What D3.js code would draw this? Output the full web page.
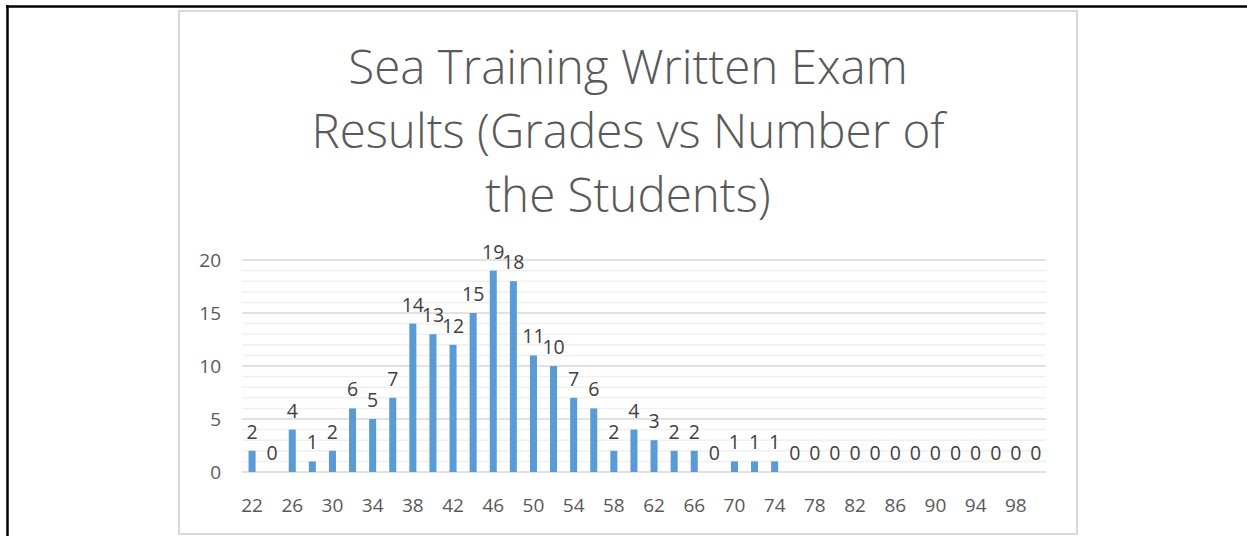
<!DOCTYPE html>
<html>
<head>
<meta charset="utf-8">
<script src="https://cdn.jsdelivr.net/npm/d3@7"></script>
<style>
  body { margin: 0; background: #fff; }
  svg { display: block; }
</style>
</head>
<body>
<script>
// grades (categories) and number of students
var grades = [22, 24, 26, 28, 30, 32, 34, 36, 38, 40, 42, 44, 46, 48, 50, 52, 54, 56, 58, 60,
              62, 64, 66, 68, 70, 72, 74, 76, 78, 80, 82, 84, 86, 88, 90, 92, 94, 96, 98, 100];
var students = [2, 0, 4, 1, 2, 6, 5, 7, 14, 13, 12, 15, 19, 18, 11, 10, 7, 6, 2, 4,
                3, 2, 2, 0, 1, 1, 1, 0, 0, 0, 0, 0, 0, 0, 0, 0, 0, 0, 0, 0];
var yTicks = [0, 5, 10, 15, 20];
var titleLines = ["Sea Training Written Exam", "Results (Grades vs Number of", "the Students)"];

var W = 1247, H = 536;
var font = "'Open Sans', 'Liberation Sans', sans-serif";

var svg = d3.select("body").append("svg")
    .attr("width", W)
    .attr("height", H);

// page frame (black lines top and left)
svg.append("line")
    .attr("x1", 6).attr("x2", W).attr("y1", 6.5).attr("y2", 6.5)
    .attr("stroke", "#000").attr("stroke-width", 2.5);
svg.append("line")
    .attr("x1", 7.5).attr("x2", 7.5).attr("y1", 5).attr("y2", H)
    .attr("stroke", "#000").attr("stroke-width", 2.5);

// chart area box
svg.append("rect")
    .attr("x", 179).attr("y", 11)
    .attr("width", 898).attr("height", 523)
    .attr("fill", "#fff")
    .attr("stroke", "#d9d9d9").attr("stroke-width", 2);

// title
svg.append("g").selectAll("text")
    .data(titleLines)
    .join("text")
    .attr("x", 628)
    .attr("y", (d, i) => 84 + i * 64)
    .attr("text-anchor", "middle")
    .attr("font-family", font)
    .attr("font-weight", 300)
    .attr("font-size", 47.5)
    .attr("fill", "#595959")
    .text(d => d);

var x = d3.scaleBand()
    .domain(grades)
    .range([242, 1046])
    .paddingInner(0.65)
    .paddingOuter(0.325);

var y = d3.scaleLinear()
    .domain([0, 20])
    .range([472, 260]);

// minor gridlines
svg.append("g").selectAll("line")
    .data(d3.range(1, 20).filter(v => v % 5 !== 0))
    .join("line")
    .attr("x1", 242).attr("x2", 1046)
    .attr("y1", d => y(d)).attr("y2", d => y(d))
    .attr("stroke", "#f0f0f0").attr("stroke-width", 1.5);

// major gridlines
svg.append("g").selectAll("line")
    .data(yTicks)
    .join("line")
    .attr("x1", 242).attr("x2", 1046)
    .attr("y1", d => y(d)).attr("y2", d => y(d))
    .attr("stroke", "#d9d9d9").attr("stroke-width", 1.5);

// y axis labels
var yAxis = d3.axisLeft(y).tickValues(yTicks).tickSize(0).tickPadding(0);
var gy = svg.append("g").attr("transform", "translate(221,0)").call(yAxis);
gy.select(".domain").remove();
gy.selectAll("text")
    .attr("font-family", font)
    .attr("font-size", 19)
    .attr("fill", "#595959");

// x axis labels (every other grade)
var xAxis = d3.axisBottom(x)
    .tickValues(grades.filter((g, i) => i % 2 === 0))
    .tickSize(0).tickPadding(0);
var gx = svg.append("g").attr("transform", "translate(0,498)").call(xAxis);
gx.select(".domain").remove();
gx.selectAll("text")
    .attr("dy", "0.71em")
    .attr("font-family", font)
    .attr("font-size", 19)
    .attr("fill", "#595959");

// bars
svg.append("g").selectAll("rect")
    .data(students)
    .join("rect")
    .attr("x", (d, i) => x(grades[i]))
    .attr("y", d => y(d))
    .attr("width", x.bandwidth())
    .attr("height", d => y(0) - y(d))
    .attr("fill", "#5b9bd5");

// data labels
svg.append("g").selectAll("text")
    .data(students)
    .join("text")
    .attr("x", (d, i) => x(grades[i]) + x.bandwidth() / 2)
    .attr("y", d => y(d) - 12)
    .attr("text-anchor", "middle")
    .attr("font-family", font)
    .attr("font-size", 19.5)
    .attr("fill", "#404040")
    .text(d => d);
</script>
</body>
</html>
